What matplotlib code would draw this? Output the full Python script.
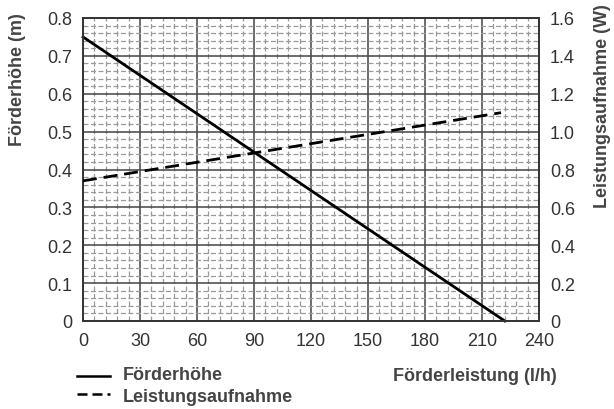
import matplotlib.pyplot as plt
from matplotlib.ticker import MultipleLocator
from matplotlib.lines import Line2D

# Förderhöhe (m) over Förderleistung (l/h)
flow_head = [0, 222]
head = [0.75, 0.0]

# Leistungsaufnahme (W) over Förderleistung (l/h)
flow_power = [0, 220]
power = [0.74, 1.10]

x_ticks = [0, 30, 60, 90, 120, 150, 180, 210, 240]
left_ticks = [0, 0.1, 0.2, 0.3, 0.4, 0.5, 0.6, 0.7, 0.8]
right_ticks = [0, 0.2, 0.4, 0.6, 0.8, 1.0, 1.2, 1.4, 1.6]

txt = "#333333"
lab = "#444444"
plt.rcParams['font.family'] = ['Liberation Sans', 'DejaVu Sans']
bold_font = dict(fontsize=13, fontweight="bold", color=lab)

fig = plt.figure(figsize=(6.14, 4.10), dpi=100)
ax = fig.add_axes([83 / 614, 1 - 322 / 410, 456 / 614, 303 / 410])

ax.set_xlim(0, 240)
ax.set_ylim(0, 0.8)
ax.set_xticks(x_ticks)
ax.set_yticks(left_ticks)
ax.set_yticklabels(["0" if v == 0 else f"{v:.1f}" for v in left_ticks])
ax.xaxis.set_minor_locator(MultipleLocator(6))
ax.yaxis.set_minor_locator(MultipleLocator(0.02))
ax.grid(which="minor", color="#9a9a9a", linestyle=(0, (4, 2)), linewidth=0.9)
ax.grid(which="major", color="#444444", linestyle="-", linewidth=1.1)
ax.set_axisbelow(True)
ax.tick_params(which="both", length=0, labelsize=13, labelcolor=txt)
ax.tick_params(axis="y", pad=8)
ax.tick_params(axis="x", pad=8)
for s in ax.spines.values():
    s.set_color("#333333")
    s.set_linewidth(1.4)

ax.plot(flow_head, head, color="black", linewidth=2.0, clip_on=False)

ax2 = ax.twinx()
ax2.set_ylim(0, 1.6)
ax2.set_yticks(right_ticks)
ax2.set_yticklabels(["0" if v == 0 else f"{v:.1f}" for v in right_ticks])
ax2.tick_params(length=0, labelsize=13, labelcolor=txt, pad=8)
for s in ax2.spines.values():
    s.set_visible(False)
ax2.plot(flow_power, power, color="black", linewidth=2.0, linestyle=(0, (5, 2.5)))

ax.set_ylabel("Förderhöhe (m)", **bold_font)
ax.yaxis.set_label_coords(-0.125, 0.80)
ax2.set_ylabel("Leistungsaufnahme (W)", **bold_font)
ax2.yaxis.set_label_coords(1.120, 0.713)

# legend and x label below the plot
fig.text(393 / 614, 1 - 377 / 410, "Förderleistung (l/h)", va="center", ha="left", **bold_font)
fig.text(123 / 614, 1 - 376 / 410, "Förderhöhe", va="center", ha="left", **bold_font)
fig.text(123 / 614, 1 - 398 / 410, "Leistungsaufnahme", va="center", ha="left", **bold_font)
fig.add_artist(Line2D([77 / 614, 110 / 614], [1 - 377 / 410] * 2, color="black", linewidth=1.8))
fig.add_artist(Line2D([77 / 614, 110 / 614], [1 - 395 / 410] * 2, color="black", linewidth=1.8,
                      linestyle=(0, (4, 2))))

fig.savefig("out.png", dpi=100)
